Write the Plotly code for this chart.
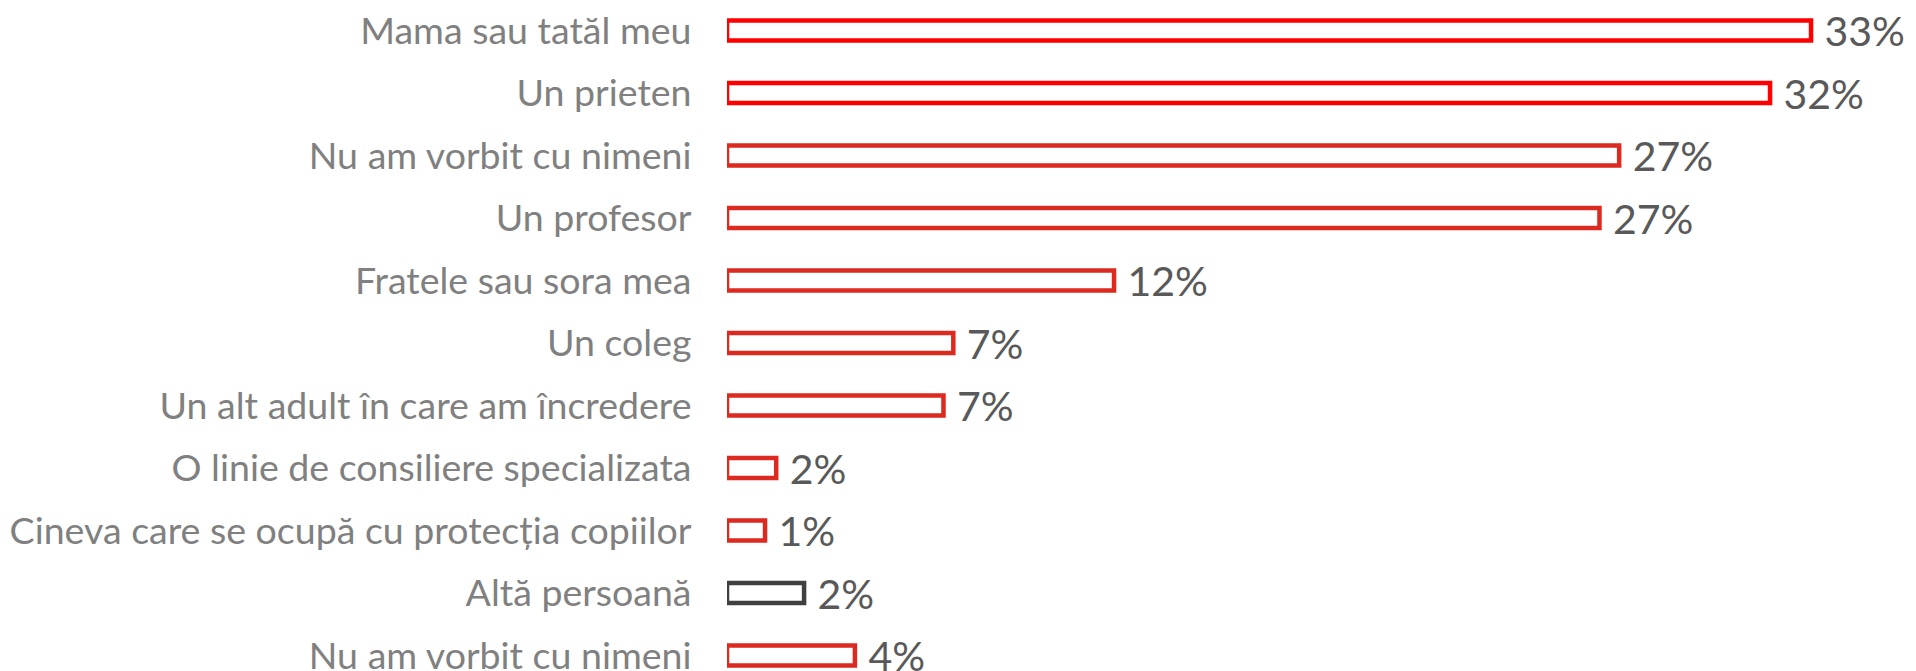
import plotly.graph_objects as go

categories = [
    "Mama sau tatăl meu",
    "Un prieten",
    "Nu am vorbit cu nimeni",
    "Un profesor",
    "Fratele sau sora mea",
    "Un coleg",
    "Un alt adult în care am încredere",
    "O linie de consiliere specializata",
    "Cineva care se ocupă cu protecția copiilor",
    "Altă persoană",
    "Nu am vorbit cu nimeni",
]
values = [33.05, 31.8, 27.2, 26.6, 11.8, 6.9, 6.6, 1.5, 1.16, 2.35, 3.9]
value_labels = ["33%", "32%", "27%", "27%", "12%", "7%", "7%", "2%", "1%", "2%", "4%"]
outline_colors = ["#FF0000", "#FF0000", "#DC2A20", "#DC2A20", "#DC2A20", "#DC2A20",
                  "#DC2A20", "#DC2A20", "#DC2A20", "#404040", "#DC2A20"]

positions = list(range(len(categories)))

fig = go.Figure(go.Bar(
    x=values,
    y=positions,
    orientation="h",
    width=0.32,
    marker=dict(color="rgba(255,255,255,1)", line=dict(color=outline_colors, width=4.5)),
    text=[" " + t for t in value_labels],
    textposition="outside",
    constraintext="none",
    textfont=dict(family="Lato", size=41, color="#595959"),
    cliponaxis=False,
))

fig.update_layout(
    width=1908,
    height=663,
    margin=dict(l=719, r=10, t=0, b=0),
    paper_bgcolor="white",
    plot_bgcolor="white",
    showlegend=False,
    xaxis=dict(range=[0, 1179 / 32.8], visible=False, automargin=False),
    yaxis=dict(
        range=[10.248, -0.36],
        tickvals=positions,
        ticktext=categories,
        tickfont=dict(family="Lato", size=37.5, color="#808080"),
        showgrid=False,
        zeroline=False,
        showline=False,
        ticks="outside",
        ticklen=27,
        tickcolor="rgba(0,0,0,0)",
        automargin=False,
        ticklabeloverflow="allow",
    ),
)

fig.write_html("out.html")
